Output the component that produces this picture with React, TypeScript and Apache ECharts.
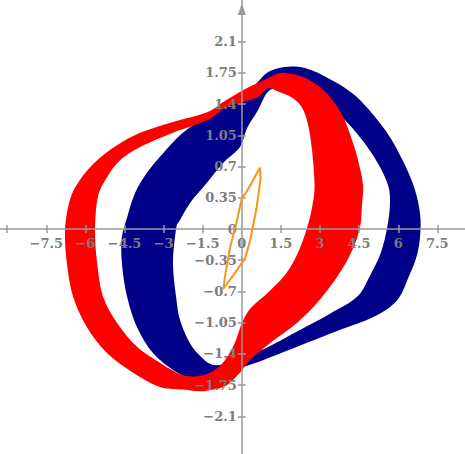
import { useEffect, useRef } from 'react';
import * as echarts from 'echarts';

// Axis extents (data units)
const X_MIN = -9.275;
const X_MAX = 8.56;
const Y_MIN = -2.522;
const Y_MAX = 2.567;

const xTicks = [-9, -7.5, -6, -4.5, -3, -1.5, 1.5, 3, 4.5, 6, 7.5];
const xLabels = [-7.5, -6, -4.5, -3, -1.5, 0, 1.5, 3, 4.5, 6, 7.5];
const yTicks = [-2.1, -1.75, -1.4, -1.05, -0.7, -0.35, 0.35, 0.7, 1.05, 1.4, 1.75, 2.1];
const yLabels = [-2.1, -1.75, -1.4, -1.05, -0.7, -0.35, 0, 0.35, 0.7, 1.05, 1.4, 1.75, 2.1];

// Blue orbit band: outer and inner boundaries, same orientation
const blueOuter: number[][] = [
  [1.01, 1.76], [1.53, 1.81], [2.16, 1.82], [2.68, 1.78], [3.19, 1.71], [3.96, 1.58],
  [4.65, 1.41], [5.57, 1.08], [6.22, 0.74], [6.64, 0.44], [6.84, 0.16], [6.84, -0.07],
  [6.72, -0.29], [6.41, -0.53], [5.95, -0.8], [5.03, -0.99], [3.77, -1.13], [2.12, -1.32],
  [0.81, -1.47], [0.01, -1.55], [-0.84, -1.64], [-1.35, -1.67], [-1.99, -1.67], [-2.64, -1.58],
  [-3.41, -1.39], [-4.02, -1.1], [-4.4, -0.76], [-4.6, -0.38], [-4.6, -0.09], [-4.4, 0.13],
  [-4.1, 0.4], [-3.64, 0.63], [-3.02, 0.85], [-2.26, 1.08], [-1.33, 1.26], [-0.45, 1.4],
  [0.12, 1.5], [0.62, 1.65],
];
const blueInner: number[][] = [
  [1.01, 1.54], [1.58, 1.61], [2.12, 1.6], [2.62, 1.52], [3.19, 1.41], [3.96, 1.22],
  [4.61, 1.0], [5.19, 0.75], [5.61, 0.49], [5.68, 0.27], [5.57, 0.01], [5.34, -0.26],
  [4.92, -0.52], [4.42, -0.76], [3.38, -0.95], [2.12, -1.15], [0.81, -1.35], [0.01, -1.42],
  [-0.76, -1.52], [-1.22, -1.51], [-1.6, -1.42], [-1.99, -1.28], [-2.37, -1.02], [-2.52, -0.76],
  [-2.64, -0.38], [-2.52, 0.0], [-2.37, 0.1], [-1.99, 0.29], [-1.33, 0.52], [-0.72, 0.74],
  [-0.07, 0.92], [0.2, 1.13], [0.62, 1.33],
];

// Red orbit band
const redOuter: number[][] = [
  [1.27, 1.73], [1.66, 1.75], [2.3, 1.71], [2.92, 1.61], [3.38, 1.48], [3.88, 1.26],
  [4.27, 0.96], [4.5, 0.72], [4.65, 0.49], [4.61, 0.27], [4.53, 0.01], [4.23, -0.24],
  [3.69, -0.52], [2.88, -0.83], [2.12, -1.05], [1.08, -1.28], [0.31, -1.47], [-0.07, -1.61],
  [-0.58, -1.75], [-1.1, -1.8], [-1.6, -1.82], [-2.26, -1.8], [-3.14, -1.77], [-4.17, -1.61],
  [-5.17, -1.39], [-5.94, -1.1], [-6.47, -0.76], [-6.71, -0.38], [-6.78, -0.01], [-6.59, 0.33],
  [-6.21, 0.55], [-5.55, 0.77], [-4.79, 0.94], [-3.9, 1.08], [-2.64, 1.2], [-1.33, 1.31],
  [-0.68, 1.43], [0.01, 1.55], [0.62, 1.64], [1.01, 1.69],
];
const redInner: number[][] = [
  [1.01, 1.58], [1.39, 1.54], [1.93, 1.47], [2.31, 1.36], [2.54, 1.17], [2.69, 0.89],
  [2.79, 0.49], [2.7, 0.25], [2.5, 0.01], [2.16, -0.26], [1.7, -0.5], [1.05, -0.7],
  [0.36, -0.88], [0.01, -1.05], [-0.22, -1.24], [-0.45, -1.38], [-0.76, -1.51], [-1.22, -1.61],
  [-1.72, -1.65], [-2.26, -1.64], [-2.75, -1.57], [-3.14, -1.5], [-4.02, -1.32], [-4.79, -1.05],
  [-5.32, -0.76], [-5.55, -0.38], [-5.63, -0.01], [-5.52, 0.36], [-5.17, 0.58], [-4.67, 0.77],
  [-3.9, 0.92], [-2.64, 1.08], [-1.33, 1.22], [-0.64, 1.36], [0.01, 1.42], [0.62, 1.48],
];

// Orange hysteresis loop
const orangeLoop: number[][] = [
  [0.7, 0.69], [0.72, 0.57], [0.57, 0.24], [0.31, -0.14], [0.12, -0.33], [-0.33, -0.52],
  [-0.71, -0.67], [-0.64, -0.52], [-0.45, -0.21], [-0.2, 0.08], [0.0, 0.34], [0.19, 0.42],
  [0.7, 0.69],
];

const BLUE = '#000088';
const RED = '#ff0000';
const ORANGE = '#f7941d';
const AXIS = '#9a9a9a';
const LABEL = '#7c7c7c';
const LABEL_FONT = 'bold 13px "DejaVu Serif"';

// Closed Catmull-Rom spline through pixel points, as SVG path data
function loopPath(pts: number[][]): string {
  const n = pts.length;
  let d = `M${pts[0][0]},${pts[0][1]}`;
  for (let i = 0; i < n; i++) {
    const p0 = pts[(i - 1 + n) % n];
    const p1 = pts[i];
    const p2 = pts[(i + 1) % n];
    const p3 = pts[(i + 2) % n];
    const c1x = p1[0] + (p2[0] - p0[0]) / 6;
    const c1y = p1[1] + (p2[1] - p0[1]) / 6;
    const c2x = p2[0] - (p3[0] - p1[0]) / 6;
    const c2y = p2[1] - (p3[1] - p1[1]) / 6;
    d += ` C${c1x},${c1y} ${c2x},${c2y} ${p2[0]},${p2[1]}`;
  }
  return d + ' Z';
}

function bandSeries(name: string, outer: number[][], inner: number[][], color: string, z: number) {
  return {
    name,
    type: 'custom',
    coordinateSystem: 'cartesian2d',
    z,
    silent: true,
    data: [[0, 0]],
    renderItem: (_params: any, api: any) => {
      const o = outer.map((p) => api.coord(p));
      const i = inner.map((p) => api.coord(p)).reverse();
      return {
        type: 'path',
        shape: { pathData: loopPath(o) + ' ' + loopPath(i) },
        style: { fill: color, stroke: null },
      };
    },
  };
}

const fmt = (v: number) => String(v).replace('-', '\u2212');

// Tick labels placed next to the axes that cross at the origin
function labelSeries(values: number[], dim: 'x' | 'y') {
  return {
    name: dim + '-labels',
    type: 'custom',
    coordinateSystem: 'cartesian2d',
    z: 15,
    silent: true,
    data: values.map((v) => (dim === 'x' ? [v, 0] : [0, v])),
    renderItem: (params: any, api: any) => {
      const v = values[params.dataIndex];
      const p = api.coord(dim === 'x' ? [v, 0] : [0, v]);
      return {
        type: 'text',
        x: dim === 'x' ? p[0] : p[0] - 5,
        y: dim === 'x' ? p[1] + 8 : p[1],
        style: {
          text: fmt(v),
          fill: LABEL,
          font: LABEL_FONT,
          align: dim === 'x' ? 'center' : 'right',
          verticalAlign: dim === 'x' ? 'top' : 'middle',
        },
      };
    },
  };
}

export default function App() {
  const ref = useRef<HTMLDivElement>(null);

  useEffect(() => {
    if (!ref.current) return;
    const chart = echarts.init(ref.current, undefined, { renderer: 'svg' });
    const lineStyle = { color: AXIS, width: 1.5 };
    chart.setOption({
      animation: false,
      backgroundColor: '#ffffff',
      grid: { left: 0, right: 0, top: 0, bottom: 0, containLabel: false, outerBoundsMode: 'none' },
      xAxis: [
        {
          type: 'value', position: 'bottom', min: X_MIN, max: X_MAX, z: 10,
          axisLine: { onZero: true, onZeroAxisIndex: 0, lineStyle },
          axisTick: { show: true, length: 4, customValues: xTicks, lineStyle },
          axisLabel: { show: false },
          splitLine: { show: false },
        },
        {
          type: 'value', position: 'top', min: X_MIN, max: X_MAX, z: 10,
          axisLine: { show: false, onZero: true, onZeroAxisIndex: 0 },
          axisTick: { show: true, length: 4, customValues: xTicks, lineStyle },
          axisLabel: { show: false },
          splitLine: { show: false },
        },
      ],
      yAxis: [
        {
          type: 'value', position: 'left', min: Y_MIN, max: Y_MAX, z: 10,
          axisLine: {
            onZero: true, onZeroAxisIndex: 0, lineStyle,
            symbol: ['none', 'triangle'], symbolSize: [8, 12], symbolOffset: [0, -9],
          },
          axisTick: { show: true, length: 4, customValues: yTicks, lineStyle },
          axisLabel: { show: false },
          splitLine: { show: false },
        },
        {
          type: 'value', position: 'right', min: Y_MIN, max: Y_MAX, z: 10,
          axisLine: { show: false, onZero: true, onZeroAxisIndex: 0 },
          axisTick: { show: true, length: 4, customValues: yTicks, lineStyle },
          axisLabel: { show: false },
          splitLine: { show: false },
        },
      ],
      series: [
        bandSeries('blue', blueOuter, blueInner, BLUE, 2),
        bandSeries('red', redOuter, redInner, RED, 3),
        labelSeries(xLabels, 'x'),
        labelSeries(yLabels, 'y'),
        {
          name: 'orange',
          type: 'line',
          z: 20,
          data: orangeLoop,
          showSymbol: false,
          symbol: 'none',
          lineStyle: { color: ORANGE, width: 2 },
          silent: true,
        },
      ],
    });
    return () => chart.dispose();
  }, []);

  return (
    <div
      ref={ref}
      style={{ position: 'absolute', left: 0, top: 0, width: 465, height: 454 }}
    />
  );
}
